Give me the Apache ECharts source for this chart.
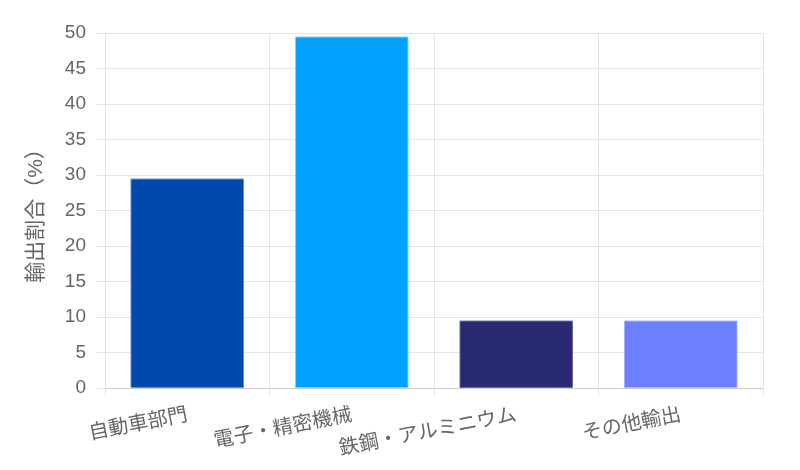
<!DOCTYPE html>
<html>
<head>
<meta charset="utf-8">
<script src="https://cdn.jsdelivr.net/npm/echarts@6/dist/echarts.min.js"></script>
<style>html,body{margin:0;padding:0;background:#fff}#c{width:800px;height:470px}</style>
</head>
<body>
<div id="c"></div>
<script>
const categories = ['自動車部門', '電子・精密機械', '鉄鋼・アルミニウム', 'その他輸出'];
const values = [29.5, 49.5, 9.5, 9.5];
const barColors = ['#0047AB', '#00A0FF', '#2A2A72', '#6B7FFF'];
const borderColors = ['#5F8FD6', '#7FD0FF', '#6A6AA0', '#A5B2FF'];
const yTicks = [0, 5, 10, 15, 20, 25, 30, 35, 40, 45, 50];
const yName = '輸出割合（%）';

const FONT = "'Liberation Sans', 'Noto Sans CJK JP', sans-serif";
const chart = echarts.init(document.getElementById('c'));
chart.setOption({
  animation: false,
  textStyle: { fontFamily: FONT },
  grid: { left: 105, right: 37, top: 33, bottom: 82 },
  xAxis: {
    type: 'category',
    data: categories,
    axisLine: { show: true, lineStyle: { color: '#cccccc', width: 1 } },
    axisTick: { show: true, length: 8, lineStyle: { color: '#e5e5e5' } },
    splitLine: { show: true, lineStyle: { color: '#e5e5e5' } },
    axisLabel: { rotate: 11, margin: 27, fontSize: 20, color: '#666', fontFamily: FONT, interval: 0 }
  },
  yAxis: {
    type: 'value',
    min: yTicks[0],
    max: yTicks[yTicks.length - 1],
    interval: 5,
    name: yName,
    nameLocation: 'middle',
    nameGap: 58,
    nameTextStyle: { fontSize: 21, color: '#666', fontFamily: FONT },
    axisLine: { show: true, lineStyle: { color: '#e5e5e5' } },
    axisTick: { show: true, length: 8, lineStyle: { color: '#e5e5e5' } },
    splitLine: { show: true, lineStyle: { color: '#e5e5e5' } },
    axisLabel: { fontSize: 19, color: '#666', margin: 19, fontFamily: FONT }
  },
  series: [{
    type: 'bar',
    barCategoryGap: '31%',
    data: values.map((v, i) => ({
      value: v,
      itemStyle: { color: barColors[i], borderColor: borderColors[i], borderWidth: 1 }
    }))
  }]
});
</script>
</body>
</html>
